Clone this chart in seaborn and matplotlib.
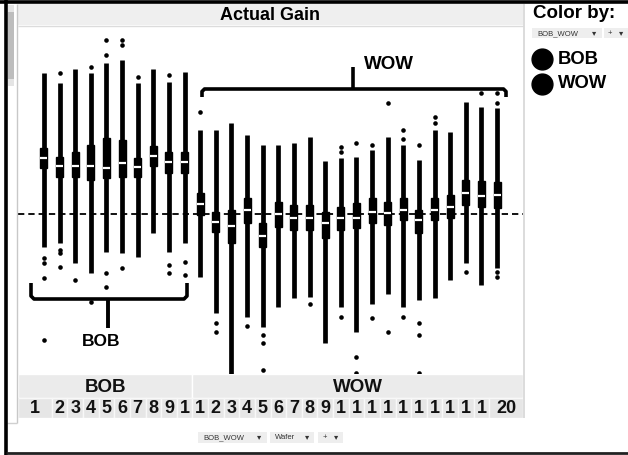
import numpy as np
import pandas as pd
import matplotlib
matplotlib.use("Agg")
import matplotlib.pyplot as plt
import seaborn as sns
from matplotlib.patches import Rectangle
from matplotlib.lines import Line2D

# ---------------- data (Actual Gain, dashed line = 0) ----------------
groups = ["BOB"] * 10 + ["WOW"] * 20
wafers = list(range(1, 11)) + list(range(1, 21))
tick_labels = ["1", "2", "3", "4", "5", "6", "7", "8", "9", "1",
               "1", "2", "3", "4", "5", "6", "7", "8", "9",
               "1", "1", "1", "1", "1", "1", "1", "1", "1", "1", "20"]

whisk_hi = [14.1, 13.1, 14.5, 14.1, 15.1, 15.4, 13.1, 14.5, 13.2, 14.2,
            8.4, 8.4, 9.1, 7.9, 6.9, 6.9, 7.1, 7.7, 5.3, 5.6,
            5.7, 6.4, 7.7, 6.9, 5.4, 8.4, 8.2, 11.2, 10.7, 10.6]
q3 = [6.6, 5.7, 6.2, 6.9, 7.6, 7.4, 5.6, 6.8, 6.2, 6.2,
      2.1, 0.2, 0.4, 1.6, -0.9, 1.2, 0.9, 0.9, 0.2, 0.7,
      1.1, 1.6, 1.2, 1.6, 0.4, 1.6, 1.9, 3.4, 3.3, 3.2]
median = [5.6, 4.8, 4.8, 4.8, 4.6, 5.1, 4.7, 5.8, 5.2, 5.2,
          1.0, -0.8, -1.2, 0.4, -2.2, 0.0, -0.4, -0.4, -0.9, -0.4,
          -0.4, 0.2, 0.1, 0.4, -0.6, 0.4, 0.7, 2.1, 1.8, 1.9]
q1 = [4.6, 3.7, 3.7, 3.4, 3.6, 3.7, 3.7, 4.8, 4.1, 4.1,
      -0.1, -1.8, -2.9, -0.9, -3.3, -1.3, -1.6, -1.6, -2.4, -1.6,
      -1.4, -0.9, -1.1, -0.6, -1.9, -0.6, -0.4, 0.9, 0.7, 0.6]
whisk_lo = [-3.3, -2.9, -4.9, -5.9, -3.8, -3.9, -4.3, -1.9, -3.8, -2.9,
            -6.3, -9.9, -17.0, -10.3, -11.3, -9.3, -8.4, -8.3, -12.9, -9.3,
            -11.8, -9.0, -8.0, -9.3, -8.6, -8.4, -6.6, -4.9, -7.1, -5.4]
outliers = [
    [-4.4, -4.9, -6.4, -12.6], [14.1, -3.6, -3.9, -5.3], [-6.6], [14.7, -8.8],
    [17.4, 15.9, -5.9, -7.3], [17.4, 16.9, -5.4], [13.7], [],
    [13.9, -5.1, -5.9], [-4.8, -6.1],
    [10.2], [-10.9, -11.8], [], [-11.2], [-12.1, -12.9, -15.6], [], [], [-9.0], [],
    [6.7, 6.2, -10.3], [7.1, -14.3, -15.9], [6.9, -10.4], [11.1, -11.8],
    [8.4, 7.5, -10.3], [6.9, -10.9, -12.1, -15.9], [9.7, 9.1], [], [-5.8],
    [12.1], [12.1, 11.1, -5.8, -6.3],
]

order = [f"{g} {w}" for g, w in zip(groups, wafers)]
box_rows = []
out_rows = []
for i, key in enumerate(order):
    for v in (whisk_lo[i], q1[i], median[i], q3[i], whisk_hi[i]):
        box_rows.append({"slot": key, "gain": v, "group": groups[i]})
    for v in outliers[i]:
        out_rows.append({"slot": key, "gain": v, "group": groups[i]})
df_box = pd.DataFrame(box_rows)
df_out = pd.DataFrame(out_rows)

# ---------------- figure ----------------
W, H = 628, 455
fig = plt.figure(figsize=(W / 100, H / 100), dpi=100)
fig.patch.set_facecolor("white")
FONT = ["Liberation Sans", "DejaVu Sans"]


def fx(x):
    return x / W


def fy(y):
    return 1 - y / H


def prect(x0, y0, x1, y1, fc, ec="none", lw=0, z=0):
    fig.add_artist(Rectangle((fx(x0), fy(y1)), (x1 - x0) / W, (y1 - y0) / H,
                             transform=fig.transFigure, facecolor=fc,
                             edgecolor=ec, linewidth=lw, zorder=z))


def pline(pts, color="black", lw=1.0, z=5, **kw):
    xs = [fx(p[0]) for p in pts]
    ys = [fy(p[1]) for p in pts]
    fig.add_artist(Line2D(xs, ys, transform=fig.transFigure, color=color,
                          linewidth=lw, zorder=z, solid_joinstyle="round",
                          solid_capstyle="butt", **kw))


def ptext(x, y, s, size=10, weight="bold", ha="center", color="black", **kw):
    fig.text(fx(x), fy(y), s, fontsize=size, fontweight=weight, ha=ha,
             va="center", color=color, family=FONT, **kw)


# main box plot axes
X0, X1 = -1.66, 30.66
ax = fig.add_axes([fx(18), fy(374), 505 / W, 348 / H])
ax.axhline(0, color="black", lw=1.3, ls=(0, (3.5, 2.2)), zorder=0)
sns.boxplot(data=df_box, x="slot", y="gain", order=order, whis=(0, 100),
            width=0.45, color="black", saturation=1, linecolor="black",
            linewidth=1, showcaps=False, showfliers=False,
            medianprops=dict(color="white", linewidth=1.6),
            whiskerprops=dict(linewidth=3.4), ax=ax)
sns.stripplot(data=df_out, x="slot", y="gain", order=order, jitter=False,
              color="black", size=3.3, linewidth=0, ax=ax)
ax.set_xlim(X0, X1)
ax.set_ylim(-16.0, 18.8)
ax.set_axis_off()

# bottom category strip
axs = fig.add_axes([fx(18), fy(418), 505 / W, 44 / H])
axs.set_xlim(X0, X1)
axs.set_ylim(418, 374)
axs.set_axis_off()
bounds = {"BOB": (X0, 9.5), "WOW": (9.5, X1)}
for g, (a, b) in bounds.items():
    axs.add_patch(Rectangle((a, 374), b - a, 24, facecolor="#ebebeb",
                            edgecolor="white", linewidth=1))
    axs.text((a + b) / 2, 387, g, ha="center", va="center", fontsize=13.5,
             fontweight="bold", family=FONT, color="#111111")
edges = [X0] + [i + 0.5 for i in range(29)] + [X1]
for i, lab in enumerate(tick_labels):
    a, b = edges[i], edges[i + 1]
    axs.add_patch(Rectangle((a, 398), b - a, 20, facecolor="#e6e6e6",
                            edgecolor="#f8f8f8", linewidth=1))
    axs.text((a + b) / 2, 408.5, lab, ha="center", va="center", fontsize=13,
             fontweight="bold", family=FONT, color="#111111")

# header strip
prect(18, 4, 523, 25, "#efefef", z=1)
pline([(18, 25.5), (523, 25.5)], color="#dcdcdc", lw=1, z=2)
ptext(270, 15, "Actual Gain", size=13)

# panel lines
pline([(17, 4), (17, 423)], color="#c8c8c8", lw=1, z=2)
pline([(523.5, 4), (523.5, 418)], color="#d6d6d6", lw=1.2, z=2)
pline([(7, 423), (17, 423)], color="#d0d0d0", lw=1, z=2)

# scrollbar
prect(8, 5, 14, 86, "#bdbdbd", z=2)
prect(8, 5, 14, 12, "#e4e4e4", z=3)
prect(8, 79, 14, 86, "#e4e4e4", z=3)

# outer frame
pline([(0, 1.5), (628, 1.5)], color="black", lw=2.6, z=10)
pline([(6, 0), (6, 455)], color="black", lw=2.6, z=10)
pline([(6, 453), (628, 453)], color="#222222", lw=2.0, z=10)

# brackets / annotations
pline([(31, 283), (31, 296), (34, 299), (184, 299), (187, 296), (187, 283)],
      lw=2.6)
pline([(108, 299), (108, 328)], lw=2.8)
ptext(101, 342, "BOB", size=12.5)
pline([(202, 97), (202, 91.5), (204.5, 89), (503.5, 89), (506, 91.5), (506, 97)],
      lw=2.6)
pline([(353, 89), (353, 67)], lw=2.6)
ptext(389, 65, "WOW", size=13.5)

# legend panel
ptext(533, 14, "Color by:", size=13.5, ha="left")
prect(532, 28, 602, 38, "#eeeeee", z=1)
prect(604, 28, 628, 38, "#eeeeee", z=1)
ptext(537, 33.5, "BOB_WOW", size=5.5, weight="normal", ha="left", color="#333333")
ptext(594, 33.5, "▾", size=6, weight="normal", color="#333333")
ptext(610, 33.5, "+", size=5.5, weight="normal", color="#333333")
ptext(621, 33.5, "▾", size=6, weight="normal", color="#333333")
for yy, lab in ((59, "BOB"), (84, "WOW")):
    fig.add_artist(Line2D([fx(542)], [fy(yy)], transform=fig.transFigure,
                          marker="o", markersize=15, color="black",
                          linestyle="none", zorder=5))
    ptext(558, yy, lab, size=13.3, ha="left")

# bottom axis selectors
for (a, b) in ((198, 267), (270, 314), (318, 343)):
    prect(a, 432, b, 443, "#eeeeee", z=1)
ptext(203, 437.5, "BOB_WOW", size=5.5, weight="normal", ha="left", color="#333333")
ptext(259, 437.5, "▾", size=6, weight="normal", color="#333333")
ptext(275, 437.5, "Wafer", size=5.5, weight="normal", ha="left", color="#333333")
ptext(307, 437.5, "▾", size=6, weight="normal", color="#333333")
ptext(325, 437.5, "+", size=5.5, weight="normal", color="#333333")
ptext(336, 437.5, "▾", size=6, weight="normal", color="#333333")

fig.savefig("out.png", dpi=100)
